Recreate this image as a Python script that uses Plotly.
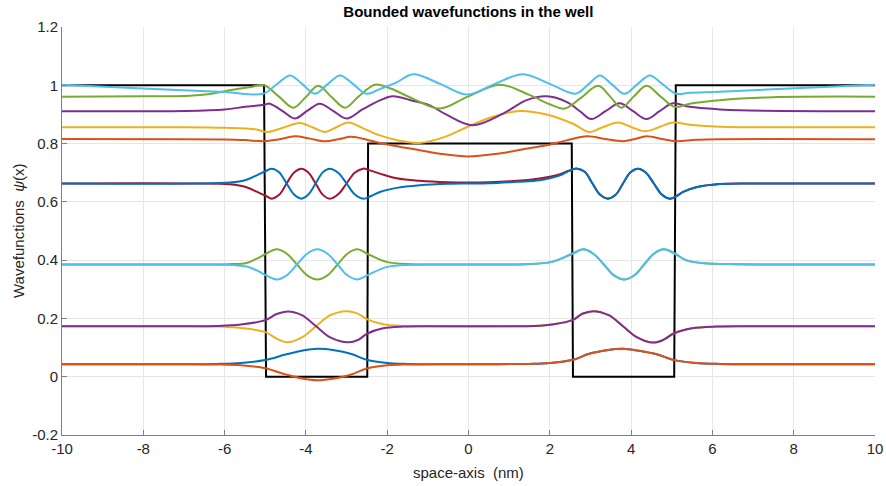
import plotly.graph_objects as go

# Potential (black)
pot_x = [-10, -5.03, -4.98, -2.49, -2.47, 2.54, 2.57, 5.06, 5.10, 10]
pot_y = [1, 1, 0, 0, 0.8, 0.8, 0, 0, 1, 1]

# State 1 (E ~ 0.043)
s1_x = [-10, -7, -6.2, -5.6, -5.0, -4.5, -4.1, -3.72, -3.3, -2.9, -2.5, -2.0, -1.5, -0.5, 0.5, 1.5, 2.0, 2.57, 2.97, 3.4, 3.8, 4.2, 4.65, 5.06, 5.6, 6.2, 7, 10]
s1_y = [0.043, 0.043, 0.044, 0.047, 0.057, 0.076, 0.089, 0.096, 0.091, 0.079, 0.058, 0.047, 0.044, 0.043, 0.043, 0.044, 0.047, 0.058, 0.079, 0.091, 0.096, 0.089, 0.076, 0.057, 0.047, 0.044, 0.043, 0.043]
s2_x = [-10, -7, -6.2, -5.6, -5.0, -4.5, -4.1, -3.72, -3.3, -2.9, -2.5, -2.0, -1.5, -0.5, 0.5, 1.5, 2.0, 2.57, 2.97, 3.4, 3.8, 4.2, 4.65, 5.06, 5.6, 6.2, 7, 10]
s2_y = [0.043, 0.043, 0.042, 0.039, 0.029, 0.008, -0.006, -0.012, -0.006, 0.007, 0.028, 0.039, 0.042, 0.043, 0.043, 0.044, 0.047, 0.058, 0.079, 0.091, 0.096, 0.089, 0.076, 0.057, 0.047, 0.044, 0.043, 0.043]

# State 3/4 (E ~ 0.173)
s3_x = [-10, -7, -6.2, -5.6, -5.0, -4.72, -4.46, -4.1, -3.75, -3.4, -3.0, -2.75, -2.49, -2.1, -1.6, -1, 1, 1.6, 2.1, 2.57, 2.8, 3.07, 3.45, 3.8, 4.15, 4.54, 4.8, 5.06, 5.5, 6.1, 7, 10]
s3_y = [0.173, 0.173, 0.172, 0.167, 0.153, 0.131, 0.118, 0.135, 0.173, 0.211, 0.225, 0.218, 0.197, 0.180, 0.174, 0.173, 0.173, 0.174, 0.180, 0.195, 0.216, 0.225, 0.211, 0.173, 0.135, 0.117, 0.127, 0.149, 0.166, 0.172, 0.173, 0.173]
s4_x = [-10, -7, -6.2, -5.6, -5.0, -4.72, -4.44, -4.1, -3.75, -3.4, -2.96, -2.72, -2.49, -2.1, -1.6, -1, 1, 1.6, 2.1, 2.57, 2.8, 3.07, 3.45, 3.8, 4.15, 4.54, 4.8, 5.06, 5.5, 6.1, 7, 10]
s4_y = [0.173, 0.173, 0.174, 0.179, 0.194, 0.215, 0.224, 0.211, 0.173, 0.135, 0.118, 0.126, 0.148, 0.166, 0.172, 0.173, 0.173, 0.174, 0.180, 0.195, 0.216, 0.225, 0.211, 0.173, 0.135, 0.117, 0.127, 0.149, 0.166, 0.172, 0.173, 0.173]

# State 5/6 (E ~ 0.385)
s5_x = [-10, -6.5, -5.9, -5.46, -5.21, -4.98, -4.72, -4.47, -4.22, -3.97, -3.72, -3.47, -3.22, -2.98, -2.73, -2.49, -2.02, -1.4, -0.8, 0, 0.8, 1.4, 2.05, 2.55, 2.82, 3.07, 3.33, 3.58, 3.84, 4.08, 4.32, 4.56, 4.81, 5.08, 5.35, 5.8, 6.6, 10]
s5_y = [0.385, 0.385, 0.386, 0.390, 0.405, 0.422, 0.437, 0.422, 0.385, 0.348, 0.334, 0.348, 0.385, 0.422, 0.437, 0.422, 0.394, 0.386, 0.385, 0.385, 0.385, 0.386, 0.394, 0.422, 0.437, 0.422, 0.385, 0.348, 0.334, 0.348, 0.385, 0.422, 0.437, 0.422, 0.400, 0.389, 0.386, 0.385]
s6_x = [-10, -6.5, -5.9, -5.46, -5.21, -4.98, -4.72, -4.47, -4.22, -3.97, -3.72, -3.47, -3.22, -2.98, -2.73, -2.49, -2.02, -1.4, -0.8, 0, 0.8, 1.4, 2.05, 2.55, 2.82, 3.07, 3.33, 3.58, 3.84, 4.08, 4.32, 4.56, 4.81, 5.08, 5.35, 5.8, 6.6, 10]
s6_y = [0.385, 0.385, 0.384, 0.378, 0.365, 0.348, 0.334, 0.348, 0.385, 0.422, 0.437, 0.422, 0.385, 0.348, 0.334, 0.348, 0.376, 0.384, 0.385, 0.385, 0.385, 0.386, 0.394, 0.422, 0.437, 0.422, 0.385, 0.348, 0.334, 0.348, 0.385, 0.422, 0.437, 0.422, 0.400, 0.389, 0.386, 0.385]

# State 7/8 (E ~ 0.663)
s7_x = [-10, -6.8, -5.87, -5.46, -5.21, -4.98, -4.84, -4.66, -4.475, -4.29, -4.11, -3.94, -3.76, -3.58, -3.41, -3.2, -3.0, -2.8, -2.59, -2.43, -2.18, -1.77, -1.2, -0.5, 0, 0.5, 1.2, 1.75, 2.25, 2.45, 2.67, 2.86, 3.05, 3.24, 3.43, 3.62, 3.8, 3.98, 4.17, 4.36, 4.56, 4.76, 4.95, 5.12, 5.28, 5.6, 6.18, 7, 10]
s7_y = [0.663, 0.663, 0.660, 0.650, 0.635, 0.620, 0.611, 0.624, 0.663, 0.701, 0.714, 0.701, 0.663, 0.624, 0.611, 0.627, 0.663, 0.700, 0.714, 0.708, 0.697, 0.681, 0.672, 0.667, 0.666, 0.667, 0.672, 0.680, 0.695, 0.706, 0.714, 0.703, 0.663, 0.624, 0.611, 0.624, 0.663, 0.701, 0.714, 0.701, 0.663, 0.624, 0.611, 0.620, 0.634, 0.650, 0.661, 0.663, 0.663]
s8_x = [-10, -6.8, -5.87, -5.46, -5.21, -4.98, -4.84, -4.66, -4.475, -4.29, -4.11, -3.94, -3.76, -3.58, -3.41, -3.2, -3.0, -2.8, -2.59, -2.4, -2.18, -1.77, -1.2, -0.5, 0, 0.5, 1.2, 1.75, 2.25, 2.45, 2.67, 2.86, 3.05, 3.24, 3.43, 3.62, 3.8, 3.98, 4.17, 4.36, 4.56, 4.76, 4.95, 5.12, 5.28, 5.6, 6.18, 7, 10]
s8_y = [0.663, 0.663, 0.666, 0.676, 0.691, 0.706, 0.714, 0.702, 0.663, 0.625, 0.611, 0.625, 0.663, 0.702, 0.714, 0.699, 0.663, 0.626, 0.611, 0.620, 0.634, 0.648, 0.657, 0.662, 0.663, 0.664, 0.669, 0.674, 0.691, 0.705, 0.714, 0.703, 0.663, 0.624, 0.611, 0.624, 0.663, 0.701, 0.714, 0.701, 0.663, 0.624, 0.611, 0.620, 0.634, 0.650, 0.661, 0.663, 0.663]

# State 9 (E ~ 0.815)
s9_x = [-10, -7, -6, -5.5, -5.03, -4.65, -4.27, -3.9, -3.53, -3.2, -2.88, -2.5, -2.18, -1.9, -1.37, -0.7, 0, 0.7, 1.37, 1.92, 2.41, 2.92, 3.35, 3.80, 4.1, 4.38, 4.75, 5.1, 5.6, 6.18, 10]
s9_y = [0.816, 0.815, 0.814, 0.812, 0.808, 0.815, 0.825, 0.817, 0.808, 0.815, 0.823, 0.813, 0.802, 0.794, 0.781, 0.765, 0.756, 0.765, 0.781, 0.794, 0.811, 0.825, 0.816, 0.808, 0.816, 0.825, 0.816, 0.808, 0.813, 0.815, 0.815]

# State 10 (E ~ 0.855)
s10_x = [-10, -7, -6, -5.25, -4.93, -4.55, -4.15, -3.84, -3.53, -3.25, -2.96, -2.6, -2.18, -1.7, -1.2, -0.6, -0.03, 0.6, 1.26, 1.92, 2.57, 2.96, 3.3, 3.68, 4.0, 4.34, 4.7, 5.03, 5.44, 6.2, 7, 10]
s10_y = [0.856, 0.856, 0.854, 0.849, 0.840, 0.855, 0.871, 0.856, 0.840, 0.856, 0.872, 0.853, 0.828, 0.810, 0.802, 0.822, 0.857, 0.892, 0.912, 0.900, 0.868, 0.840, 0.856, 0.872, 0.857, 0.842, 0.857, 0.872, 0.865, 0.858, 0.856, 0.856]

# State 11 (E ~ 0.91)
s11_x = [-10, -7, -6, -5.5, -5.03, -4.89, -4.58, -4.27, -3.97, -3.66, -3.33, -3.0, -2.6, -2.18, -1.86, -1.4, -0.95, -0.54, 0.1, 0.85, 1.43, 1.92, 2.41, 2.75, 3.02, 3.37, 3.72, 4.05, 4.38, 4.7, 5.03, 5.44, 6.18, 6.67, 10]
s11_y = [0.911, 0.912, 0.917, 0.926, 0.933, 0.937, 0.912, 0.886, 0.912, 0.937, 0.912, 0.886, 0.918, 0.948, 0.962, 0.948, 0.931, 0.899, 0.863, 0.903, 0.949, 0.962, 0.943, 0.910, 0.884, 0.911, 0.938, 0.911, 0.884, 0.911, 0.938, 0.926, 0.917, 0.914, 0.911]

# State 12 (E ~ 0.96)
s12_x = [-10, -8, -7, -6.48, -5.87, -5.4, -5.03, -4.67, -4.31, -4.0, -3.70, -3.37, -3.04, -2.7, -2.3, -1.9, -1.37, -0.71, -0.03, 0.77, 1.51, 2.0, 2.37, 2.75, 3.19, 3.48, 3.76, 4.07, 4.38, 4.72, 5.07, 5.44, 6.18, 7.48, 10]
s12_y = [0.961, 0.962, 0.963, 0.968, 0.983, 0.993, 1.000, 0.962, 0.923, 0.960, 0.998, 0.960, 0.923, 0.962, 1.002, 0.988, 0.954, 0.920, 0.960, 1.002, 0.966, 0.935, 0.920, 0.955, 0.998, 0.962, 0.923, 0.962, 0.998, 0.962, 0.926, 0.937, 0.949, 0.959, 0.961]

# State 13 (E ~ 1.0)
s13_x = [-10, -8, -6, -5.05, -4.72, -4.39, -4.08, -3.78, -3.47, -3.16, -2.83, -2.51, -2.15, -1.77, -1.36, -0.7, -0.03, 0.65, 1.34, 2.0, 2.63, 2.95, 3.23, 3.53, 3.84, 4.15, 4.46, 4.78, 5.11, 5.44, 6.18, 7.9, 10]
s13_y = [1.002, 0.989, 0.977, 0.971, 1.003, 1.034, 1.003, 0.971, 1.003, 1.034, 1.003, 0.971, 0.989, 1.010, 1.038, 1.005, 0.968, 1.005, 1.038, 1.005, 0.971, 1.003, 1.034, 1.003, 0.971, 1.003, 1.034, 1.003, 0.971, 0.974, 0.978, 0.989, 1.002]

series = [
    (s1_x, s1_y, "#0072BD"), (s2_x, s2_y, "#D95319"),
    (s3_x, s3_y, "#EDB120"), (s4_x, s4_y, "#7E2F8E"),
    (s5_x, s5_y, "#77AC30"), (s6_x, s6_y, "#4DBEEE"),
    (s7_x, s7_y, "#A2142F"), (s8_x, s8_y, "#0072BD"),
    (s9_x, s9_y, "#D95319"), (s10_x, s10_y, "#EDB120"),
    (s11_x, s11_y, "#7E2F8E"), (s12_x, s12_y, "#77AC30"),
    (s13_x, s13_y, "#4DBEEE"),
]

x_ticks = [-10, -8, -6, -4, -2, 0, 2, 4, 6, 8, 10]
x_tick_text = ["-10", "-8", "-6", "-4", "-2", "0", "2", "4", "6", "8", "10"]
y_ticks = [-0.2, 0, 0.2, 0.4, 0.6, 0.8, 1, 1.2]
y_tick_text = ["-0.2", "0", "0.2", "0.4", "0.6", "0.8", "1", "1.2"]

fig = go.Figure()
fig.add_trace(go.Scatter(x=pot_x, y=pot_y, mode="lines",
                         line=dict(color="#000000", width=2), showlegend=False))
for sx, sy, c in series:
    fig.add_trace(go.Scatter(x=sx, y=sy, mode="lines",
                             line=dict(color=c, width=2, shape="spline", smoothing=1.0),
                             showlegend=False))

font_family = "Liberation Sans, Arial, Helvetica, sans-serif"
fig.update_layout(
    width=886, height=486,
    margin=dict(l=62, r=11, t=27, b=51, autoexpand=False),
    paper_bgcolor="white", plot_bgcolor="white",
    font=dict(family=font_family, size=15, color="#262626"),
    title=dict(text="<b>Bounded wavefunctions in the well</b>", x=0.5286, xanchor="center",
               y=0.975, yanchor="middle", font=dict(size=15, color="#000000")),
    xaxis=dict(range=[-10, 10], tickvals=x_ticks, ticktext=x_tick_text, ticks="inside", ticklen=5,
               tickcolor="#808080", showline=True, linecolor="#808080", linewidth=1,
               showgrid=True, gridcolor="#e6e6e6", gridwidth=1, zeroline=False,
               automargin=False, tickfont=dict(size=15, color="#262626")),
    yaxis=dict(range=[-0.2, 1.2], tickvals=y_ticks, ticktext=y_tick_text, ticks="inside",
               ticklen=5, tickcolor="#808080", showline=True, linecolor="#808080", linewidth=1,
               showgrid=True, gridcolor="#e6e6e6", gridwidth=1, zeroline=False,
               automargin=False, tickfont=dict(size=15, color="#262626")),
    annotations=[
        dict(text="space-axis  (nm)", xref="paper", yref="paper", x=0.5, y=0,
             yshift=-37, showarrow=False, xanchor="center", yanchor="middle",
             font=dict(size=15, color="#262626")),
        dict(text="Wavefunctions  <i>ψ</i>(x)", xref="paper", yref="paper", x=0, y=0.5,
             xshift=-44, showarrow=False, textangle=-90, xanchor="center", yanchor="middle",
             font=dict(size=15, color="#262626")),
    ],
)

fig.write_html("out.html")
